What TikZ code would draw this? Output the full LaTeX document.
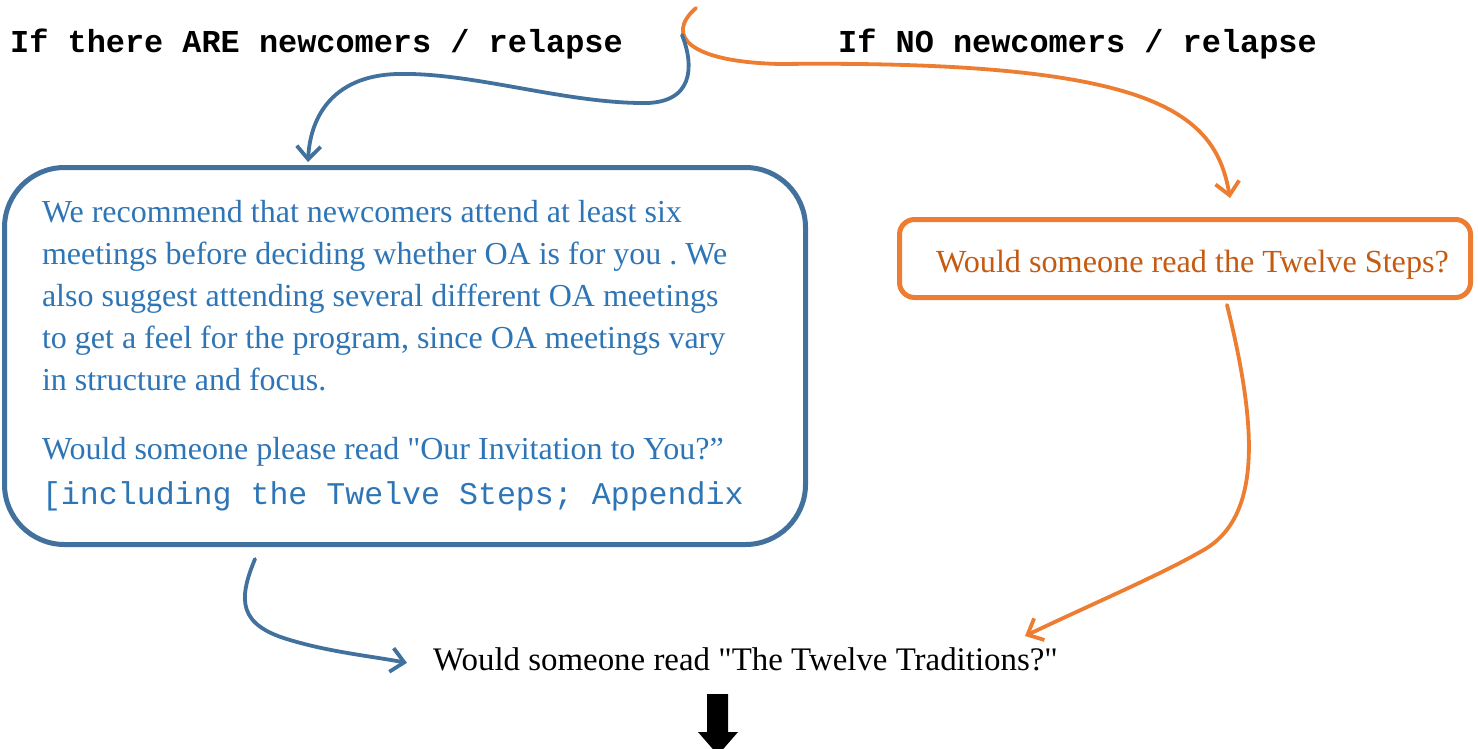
\documentclass[tikz,border=0pt]{standalone}
\usepackage{fontspec}
\setmainfont{Liberation Serif}[Ligatures=TeXOff]
\setmonofont{Liberation Mono}
\usetikzlibrary{arrows.meta,positioning}
\definecolor{blaalinje}{HTML}{41719C}
\definecolor{blaatekst}{HTML}{2E75B6}
\definecolor{orangelinje}{HTML}{ED7D31}
\definecolor{orangetekst}{HTML}{C55A11}
\tikzset{
	%Define standard arrow tip
	>={Straight Barb[length=13pt,width=24pt]},
	%Define style for boxes
	boks/.style={
		rectangle,
		draw, line width=5pt,
		inner sep=0pt,
		font=\fontsize{32}{42}\selectfont\frenchspacing,
		align=flush left},
	%Define style for the plain texts
	tekst/.style={
		anchor=base west,
		inner sep=0pt,
		font=\fontsize{32.9}{42}\selectfont},
	% Define arrow style
	pil/.style={
		->,
		line width=3.8pt,
		line cap=round}
}

\begin{document}
\begin{tikzpicture}[x=1pt, y=-1pt]
	
	\useasboundingbox (0,0) rectangle (1478,748);
	
	\node[tekst, font=\fontsize{31.9}{42}\selectfont\ttfamily\bfseries] (hdr1) at (10,52) {If there ARE newcomers / relapse};
	\node[tekst, font=\fontsize{31.9}{42}\selectfont\ttfamily\bfseries] (hdr2) at (838,52) {If NO newcomers / relapse};
	
	\node[boks, draw=blaalinje, text=blaatekst, rounded corners=60pt, minimum width=801pt, minimum height=377pt, text width=726pt] (intro) at (405,356)
	{We recommend that newcomers attend at least six\\
	 meetings before deciding whether OA is for you . We\\
	 also suggest attending several different OA meetings\\
	 to get a feel for the program, since OA meetings vary\\
	 in structure and focus.\\[27pt]
	 Would someone please read "Our Invitation to You?”\\[3pt]
	 {\ttfamily\fontsize{31.6}{42}\selectfont [including the Twelve Steps; Appendix}};
	\node[boks, draw=orangelinje, text=orangetekst, font=\fontsize{32.2}{42}\selectfont, rounded corners=15pt, minimum width=571pt, minimum height=78pt, text width=540pt, text height=34pt, text depth=7pt] (steps) at (1185,258.5)
	{\hspace*{21pt}Would someone read the Twelve Steps?};
	
	\node[tekst] (trad) at (433,670) {Would someone read "The Twelve Traditions?"};
	
	% the two branches start here
	\coordinate (top) at (696,8);
	\coordinate (fork) at (682,35);
	
	\draw[pil, orangelinje] (top) .. controls (664,36) and (690,62) .. (780,64) .. controls (1150,60) and (1215,110) .. ([xshift=45pt,yshift=19pt]steps.north);
	\draw[pil, blaalinje] (fork) .. controls (694,65) and (695,105) .. (640,103) .. controls (560,102) and (470,72) .. (397,74) .. controls (330,76) and (310,120) .. ([xshift=-97pt,yshift=3pt]intro.north);
	\draw[pil, orangelinje] ([xshift=42pt,yshift=-5pt]steps.south) .. controls (1258,430) and (1262,520) .. (1200,552) .. controls (1160,575) and (1090,605) .. ([xshift=-33pt,yshift=11pt]trad.north east);
	\draw[pil, blaalinje] ([xshift=-150pt,yshift=-12pt]intro.south) .. controls (238,600) and (238,625) .. (290,640) .. controls (330,652) and (370,656) .. ([xshift=-26pt,yshift=-4pt]trad.west);
	
	% big arrow under the last question
	\fill[black] (707,694) -- (728,694) -- (728,732) -- (738,732) -- (718,755) -- (698,732) -- (707,732) -- cycle;
	
\end{tikzpicture}
\end{document}
